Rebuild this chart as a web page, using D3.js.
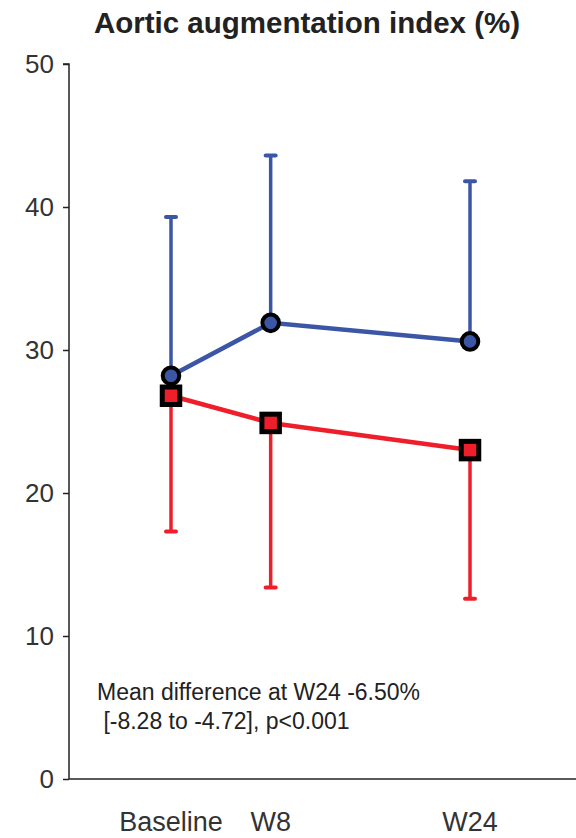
<!DOCTYPE html>
<html>
<head>
<meta charset="utf-8">
<script src="https://cdn.jsdelivr.net/npm/d3@7"></script>
<style>
  body { margin: 0; background: #fff; }
  text { font-family: "Liberation Sans", Arial, sans-serif; }
</style>
</head>
<body>
<div id="wrapper"></div>
<script>
// data
const visits = ["Baseline", "W8", "W24"]
const weeks = [0, 8, 24]
const blueMean = [28.2, 31.9, 30.6]
const blueUpper = [39.3, 43.6, 41.8]
const redMean = [26.8, 24.9, 23.0]
const redLower = [17.3, 13.4, 12.6]
const yTicks = [0, 10, 20, 30, 40, 50]

const blue = "#3c56a6"
const red = "#ee1f2a"

const dimensions = {
  width: 576,
  height: 838,
  margin: { top: 64, right: 0, bottom: 59, left: 69 },
}

const svg = d3.select("#wrapper")
  .append("svg")
    .attr("width", dimensions.width)
    .attr("height", dimensions.height)

const xScale = d3.scaleLinear()
    .domain([0, 24])
    .range([171, 470])

const yScale = d3.scaleLinear()
    .domain([0, 50])
    .range([dimensions.height - dimensions.margin.bottom, dimensions.margin.top])

// title
svg.append("text")
    .attr("x", 307)
    .attr("y", 33)
    .attr("text-anchor", "middle")
    .style("font-size", "29.5px")
    .style("font-weight", "bold")
    .style("fill", "#222")
    .text("Aortic augmentation index (%)")

// y axis
const yAxis = d3.axisLeft(yScale)
    .tickValues(yTicks)
    .tickSize(6)
    .tickPadding(9)

const yAxisG = svg.append("g")
    .attr("transform", `translate(${dimensions.margin.left},0)`)
    .call(yAxis)
yAxisG.select(".domain").attr("d", `M-6,${yScale(50)}H0V${yScale(0)}`)
    .attr("stroke", "#222").attr("stroke-width", 1.5)
yAxisG.selectAll(".tick line").attr("stroke", "#222").attr("stroke-width", 1.5)
yAxisG.selectAll(".tick text")
    .style("font-size", "26px")
    .style("fill", "#333")
    .attr("font-family", null)

// x axis line
svg.append("line")
    .attr("x1", dimensions.margin.left)
    .attr("x2", dimensions.width)
    .attr("y1", yScale(0))
    .attr("y2", yScale(0))
    .attr("stroke", "#222")
    .attr("stroke-width", 1.5)

svg.selectAll(".xlabel")
  .data(visits)
  .join("text")
    .attr("class", "xlabel")
    .attr("x", (d, i) => xScale(weeks[i]))
    .attr("y", 831)
    .attr("text-anchor", "middle")
    .style("font-size", "27px")
    .style("fill", "#333")
    .text(d => d)

// annotation
const note = svg.append("text")
    .style("font-size", "23px")
    .style("fill", "#222")
note.append("tspan").attr("x", 97).attr("y", 700).text("Mean difference at W24 -6.50%")
note.append("tspan").attr("x", 97).attr("y", 729).text("\u00a0[-8.28 to -4.72], p<0.001")

const line = d3.line()
    .x((d, i) => xScale(weeks[i]))
    .y(d => yScale(d))

function drawSeries(means, ends, color, shape) {
  const g = svg.append("g")
  g.selectAll(".err")
    .data(means)
    .join("line")
      .attr("x1", (d, i) => xScale(weeks[i]))
      .attr("x2", (d, i) => xScale(weeks[i]))
      .attr("y1", d => yScale(d))
      .attr("y2", (d, i) => yScale(ends[i]))
      .attr("stroke", color)
      .attr("stroke-width", 3.5)
  g.selectAll(".cap")
    .data(ends)
    .join("line")
      .attr("x1", (d, i) => xScale(weeks[i]) - 5)
      .attr("x2", (d, i) => xScale(weeks[i]) + 5)
      .attr("y1", d => yScale(d))
      .attr("y2", d => yScale(d))
      .attr("stroke", color)
      .attr("stroke-width", 4)
      .attr("stroke-linecap", "round")
  g.append("path")
      .datum(means)
      .attr("d", line)
      .attr("fill", "none")
      .attr("stroke", color)
      .attr("stroke-width", 4.5)
  if (shape === "circle") {
    g.selectAll("circle")
      .data(means)
      .join("circle")
        .attr("cx", (d, i) => xScale(weeks[i]))
        .attr("cy", d => yScale(d))
        .attr("r", 8.3)
        .attr("fill", color)
        .attr("stroke", "#000")
        .attr("stroke-width", 4)
  } else {
    const s = 17.5
    g.selectAll("rect")
      .data(means)
      .join("rect")
        .attr("x", (d, i) => xScale(weeks[i]) - s / 2)
        .attr("y", d => yScale(d) - s / 2)
        .attr("width", s)
        .attr("height", s)
        .attr("fill", color)
        .attr("stroke", "#000")
        .attr("stroke-width", 5)
  }
}

drawSeries(blueMean, blueUpper, blue, "circle")
drawSeries(redMean, redLower, red, "square")
</script>
</body>
</html>
